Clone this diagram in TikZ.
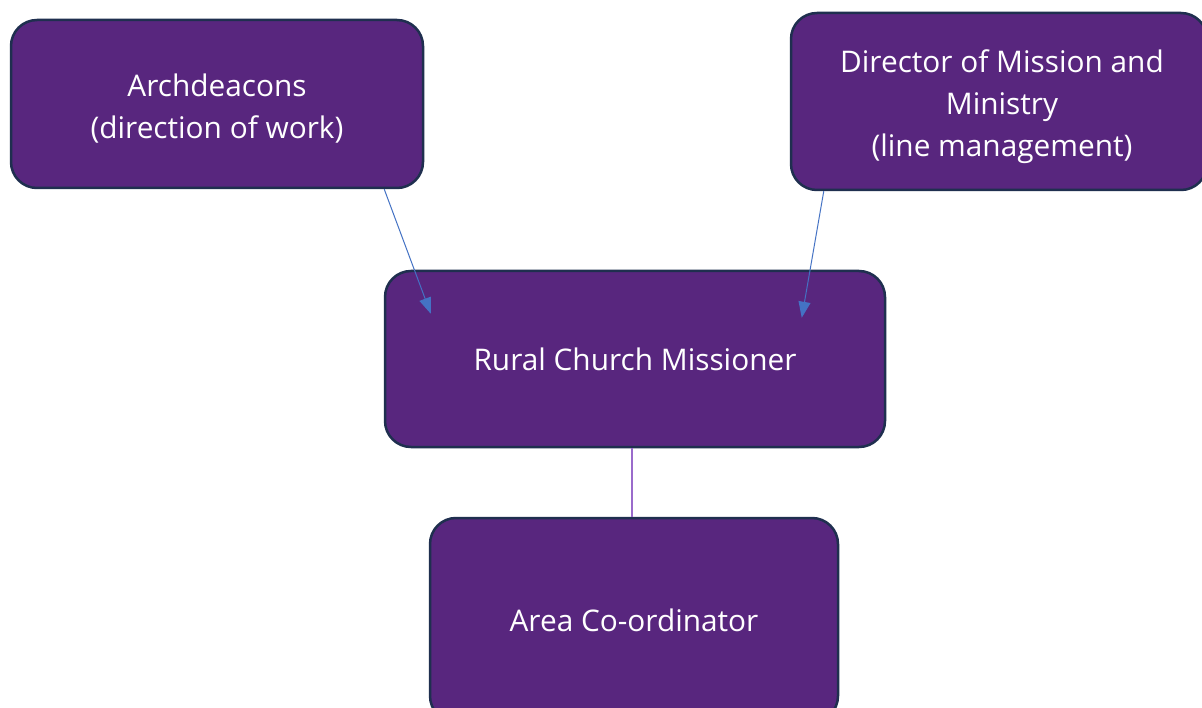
\documentclass[tikz,border=0pt]{standalone}
\usepackage{fontspec}
\setmainfont{Open Sans}
\usetikzlibrary{arrows.meta,calc}
\definecolor{boxfill}{HTML}{58267E}
\definecolor{boxline}{HTML}{1F2F4F}
\definecolor{arrowblue}{HTML}{4472C4}
\definecolor{linkpurple}{HTML}{9A6BCB}
\tikzset{
  orgbox/.style={draw=boxline, line width=2.5pt, fill=boxfill, rounded corners=26pt,
    text=white, align=center, inner sep=0pt,
    font=\fontsize{29.8}{42}\selectfont},
  boxtext/.style={text=white, align=center, inner sep=0pt,
    font=\fontsize{29.8}{42}\selectfont},
  bluearrow/.style={draw=arrowblue, line width=1pt, -{Triangle[length=16pt,width=12pt]}},
  purplelink/.style={draw=linkpurple, line width=2pt}
}
\begin{document}
\begin{tikzpicture}[x=1pt,y=1pt]
\useasboundingbox (0,0) rectangle (1202,-708);
\clip (0,0) rectangle (1202,-708);
\fill[white] (0,0) rectangle (1202,-708);
\node[orgbox, minimum width=412pt, minimum height=168pt,
  label={[boxtext, yshift=-5pt]center:{Archdeacons\\(direction of work)}}] (arch) at (217,-104) {};
\node[orgbox, minimum width=416pt, minimum height=177pt,
  label={[boxtext, yshift=-5pt, xshift=3pt]center:{Director of Mission and\\Ministry\\(line management)}}] (dir) at (999,-101.5) {};
\node[orgbox, minimum width=500pt, minimum height=176pt] (rural) at (635,-359) {Rural Church Missioner};
\node[orgbox, minimum width=408pt, minimum height=204pt] (area) at (634,-620) {Area Co-ordinator};
\coordinate (archout) at ($(arch.south east)+(-40,0)$);
\coordinate (ruralinA) at ($(rural.north west)+(47,-44)$);
\coordinate (dirout) at ($(dir.south west)+(34,0)$);
\coordinate (ruralinB) at ($(rural.north west)+(418,-48)$);
\draw[bluearrow] (archout) -- (ruralinA);
\draw[bluearrow] (dirout) -- (ruralinB);
\draw[purplelink] (rural.south -| area.north) ++(-2,0) coordinate (linktop) -- (linktop |- area.north);
\end{tikzpicture}
\end{document}
